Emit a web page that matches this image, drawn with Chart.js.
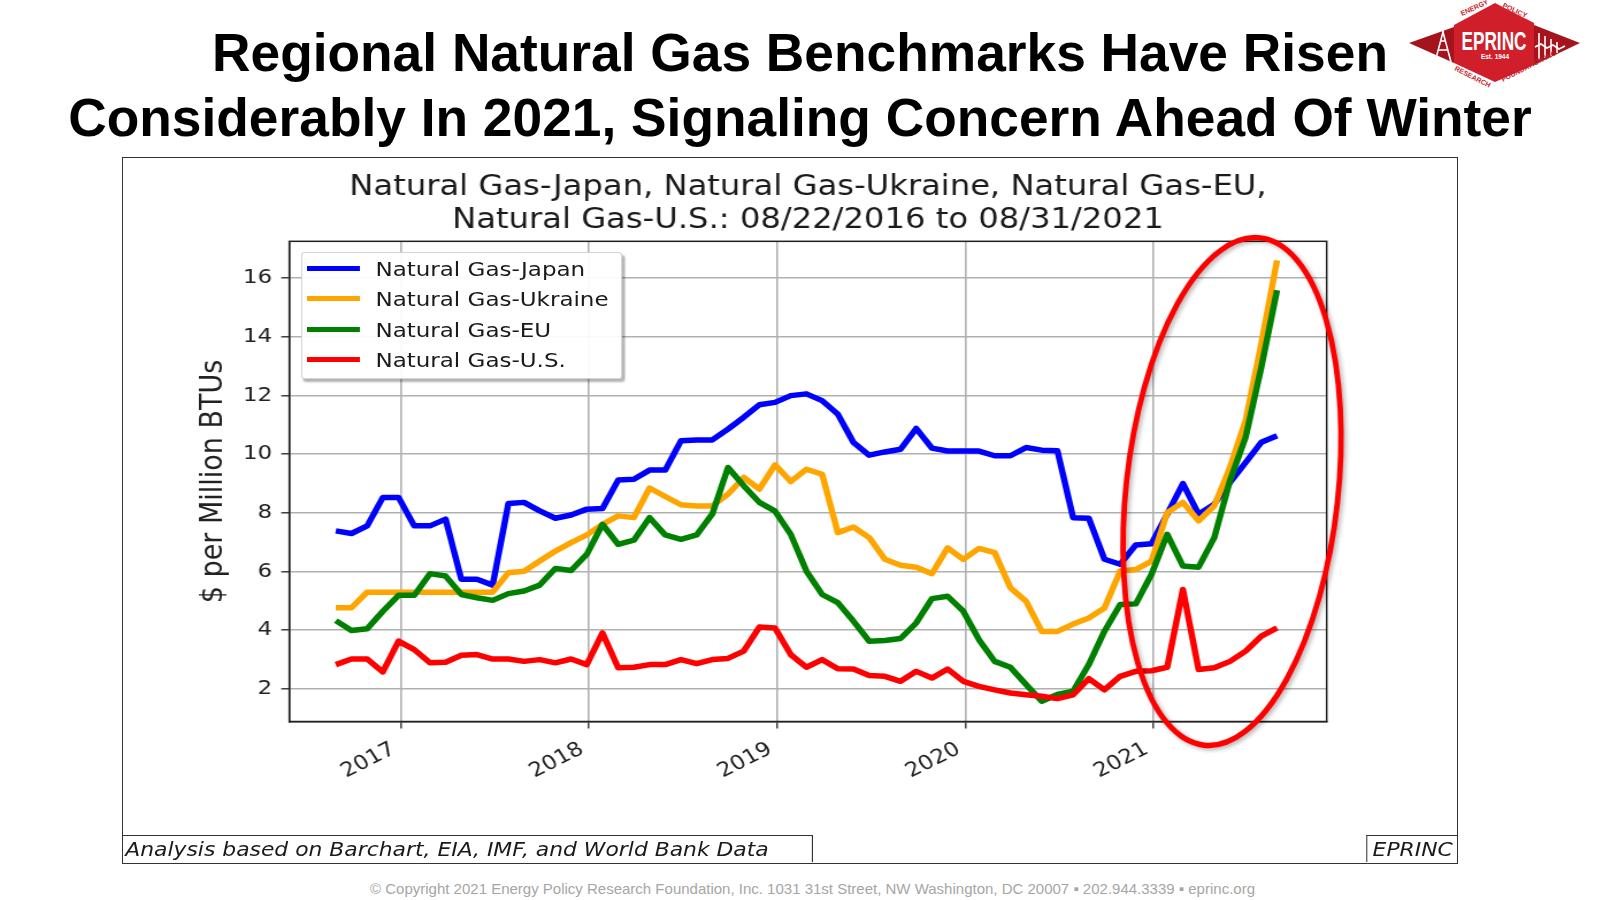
<!DOCTYPE html>
<html lang="en"><head>
<meta charset="utf-8">
<title>Regional Natural Gas Benchmarks</title>
<script src="https://cdn.jsdelivr.net/npm/chart.js"></script>
<style type="text/css">
body { margin:0; background:#ffffff; }
#slide { position:relative; width:1600px; height:900px; overflow:hidden; background:#ffffff;
         font-family:"Liberation Sans",Arial,sans-serif; }
.headline { position:absolute; left:0; top:21px; width:1600px; text-align:center; font-weight:bold;
            font-size:53.3px; line-height:64.7px; color:#000000; }
#logo { position:absolute; left:1405px; top:0px; }
#fig { position:absolute; left:121.5px; top:156.5px; width:1336.5px; height:707px;
       border:1.5px solid #333333; box-sizing:border-box; }
#inner { position:absolute; left:0; top:0; width:1160px; height:704px;
         transform:scaleX(1.15); transform-origin:0 0; }
#chart { position:absolute; left:0; top:0; }
#legend { position:absolute; left:154.5px; top:94.7px; width:279px; height:127px; box-sizing:border-box;
          border:1px solid #d4d4d4; border-radius:3px; background:rgba(255,255,255,0.92);
          box-shadow:2px 3px 2px rgba(0,0,0,0.3); font-family:"DejaVu Sans",sans-serif; font-size:20px; color:#1a1a1a; }
.swatch { position:absolute; left:4px; width:46px; height:5px; }
.label { position:absolute; left:64px; line-height:24px; white-space:nowrap; }
.note { position:absolute; top:677px; height:27px; box-sizing:border-box; border-top:1.5px solid #333333;
        font-family:"DejaVu Sans",sans-serif; font-style:italic; font-size:19px; line-height:25.5px;
        color:#1a1a1a; white-space:nowrap; overflow:hidden; padding-top:1px; }
#source { left:0; width:600px; border-right:1.5px solid #333333; padding-left:2px; }
#brand { left:1081px; width:79px; border-left:1.5px solid #333333; padding-left:4.6px; }
#footer { position:absolute; left:812.5px; top:880px; transform:translateX(-50%); white-space:nowrap;
          font-size:15px; line-height:18px; color:#a6a6a6; }
</style>
<script>
// monthly values, Aug 2016 .. Aug 2021, $ per million BTU
months=["Aug 2016","Sep 2016","Oct 2016","Nov 2016","Dec 2016",
  "Jan 2017","Feb 2017","Mar 2017","Apr 2017","May 2017","Jun 2017","Jul 2017","Aug 2017","Sep 2017","Oct 2017","Nov 2017","Dec 2017",
  "Jan 2018","Feb 2018","Mar 2018","Apr 2018","May 2018","Jun 2018","Jul 2018","Aug 2018","Sep 2018","Oct 2018","Nov 2018","Dec 2018",
  "Jan 2019","Feb 2019","Mar 2019","Apr 2019","May 2019","Jun 2019","Jul 2019","Aug 2019","Sep 2019","Oct 2019","Nov 2019","Dec 2019",
  "Jan 2020","Feb 2020","Mar 2020","Apr 2020","May 2020","Jun 2020","Jul 2020","Aug 2020","Sep 2020","Oct 2020","Nov 2020","Dec 2020",
  "Jan 2021","Feb 2021","Mar 2021","Apr 2021","May 2021","Jun 2021","Jul 2021","Aug 2021"];

japan=[7.38,7.29,7.55,8.52,8.52,7.55,7.55,7.78,5.73,5.73,5.53,8.31,8.35,8.06,7.81,7.92,8.12,8.14,9.11,9.14,
  9.45,9.45,10.45,10.48,10.48,10.85,11.25,11.68,11.76,11.99,12.05,11.82,11.36,10.39,9.96,10.07,10.16,10.87,10.20,10.10,
  10.10,10.10,9.94,9.94,10.22,10.13,10.11,7.83,7.81,6.41,6.24,6.90,6.94,7.95,8.99,7.95,8.29,9.03,9.71,10.40,10.62];
ukraine=[4.76,4.76,5.29,5.29,5.29,5.29,5.29,5.29,5.29,5.29,5.29,5.95,6.00,6.35,6.69,6.98,7.24,7.60,7.89,7.83,
  8.84,8.55,8.27,8.23,8.23,8.63,9.20,8.80,9.63,9.06,9.48,9.31,7.32,7.51,7.15,6.41,6.21,6.14,5.92,6.80,
  6.41,6.78,6.64,5.44,4.98,3.95,3.95,4.20,4.41,4.75,6.01,6.06,6.35,8.00,8.35,7.72,8.23,9.54,11.14,13.76,16.60];
eu=[4.32,3.98,4.04,4.64,5.18,5.18,5.92,5.84,5.21,5.10,5.01,5.24,5.33,5.53,6.10,6.03,6.58,7.60,6.92,7.06,
  7.83,7.24,7.09,7.24,7.95,9.54,8.92,8.35,8.05,7.26,6.01,5.21,4.93,4.30,3.62,3.64,3.71,4.24,5.07,5.15,
  4.64,3.67,2.93,2.73,2.14,1.57,1.80,1.91,2.82,3.96,4.87,4.89,5.90,7.26,6.18,6.14,7.15,9.09,10.57,12.96,15.58];
us=[2.82,3.01,3.01,2.57,3.62,3.33,2.88,2.90,3.14,3.16,3.01,3.01,2.93,2.99,2.88,3.01,2.82,3.90,2.71,2.73,
  2.82,2.82,2.99,2.85,2.99,3.03,3.28,4.10,4.07,3.16,2.73,2.99,2.68,2.67,2.45,2.42,2.25,2.59,2.36,2.67,
  2.25,2.08,1.96,1.85,1.79,1.74,1.66,1.79,2.34,1.96,2.42,2.59,2.61,2.73,5.38,2.65,2.71,2.93,3.28,3.79,4.07];

seriesNames=["Natural Gas-Japan","Natural Gas-Ukraine","Natural Gas-EU","Natural Gas-U.S."];
seriesColors=["#0000ff","#ffa500","#008000","#ff0000"];
yearTicks=[2017,2018,2019,2020,2021];
priceTicks=[2,4,6,8,10,12,14,16];
chartTitle=["Natural Gas-Japan, Natural Gas-Ukraine, Natural Gas-EU,","Natural Gas-U.S.: 08/22/2016 to 08/31/2021"];

// highlight ring round 2021, centre and half axes in data units
ring={x:2021.416,y:8.72,dx:0.563,dy:8.7,tilt:0.11};

S=1.15; // the figure is stretched sideways, as in the slide

function monthPos(i) { return 2016.655+i/12; }

framePlugin={id:"frame",afterDraw:function(chart){
  var c=chart.ctx,a=chart.chartArea,xs=chart.scales.x,ys=chart.scales.y;
  c.save(); c.strokeStyle="#222222"; c.lineWidth=1.5;
  c.strokeRect(a.left,a.top,a.right-a.left,a.bottom-a.top);
  var cx=xs.getPixelForValue(ring.x),cy=ys.getPixelForValue(ring.y);
  var rx=(xs.getPixelForValue(ring.x+ring.dx)-cx)*S,ry=ys.getPixelForValue(ring.y-ring.dy)-cy;
  c.translate(cx,cy); c.scale(1/S,1); c.rotate(ring.tilt);
  c.shadowColor="rgba(0,0,0,0.3)"; c.shadowBlur=4; c.shadowOffsetX=2; c.shadowOffsetY=2;
  c.beginPath(); c.ellipse(0,0,rx,ry,0,0,2*Math.PI);
  c.strokeStyle="#ff0000"; c.lineWidth=5.5; c.stroke();
  c.restore(); }};

function initChart() {
  values=[japan,ukraine,eu,us]; datasets=[];
  for (k=0;k<4;k++) {
    pts=[]; for (i=0;i<months.length;i++) { pts.push({x:monthPos(i),y:values[k][i]}); }
    datasets.push({label:seriesNames[k],data:pts,borderColor:seriesColors[k],backgroundColor:seriesColors[k],
      borderWidth:5.5,pointRadius:0,tension:0,borderJoinStyle:"round",order:4-k}); }

  axisFont={family:"DejaVu Sans",size:20};
  gridOpts={color:"#b0b0b0",lineWidth:1.6,tickLength:7,tickColor:"#222222",tickWidth:1.3};
  config={type:"line",data:{datasets:datasets},options:{
    responsive:false,animation:false,events:[],
    layout:{padding:{left:0,right:113.3,top:0,bottom:40.5}},
    plugins:{legend:{display:false},tooltip:{enabled:false},
      title:{display:true,fullSize:false,text:chartTitle,color:"#1a1a1a",
        font:{family:"DejaVu Sans",size:28,weight:"normal",lineHeight:1.154},padding:{top:13.85,bottom:4.85}}},
    scales:{
      x:{type:"linear",min:2016.408,max:2021.919,
        afterBuildTicks:function(a){a.ticks=yearTicks.map(function(v){return {value:v};});},
        afterFit:function(a){a.height=100;},
        ticks:{callback:function(v){return String(v);},minRotation:30,maxRotation:30,font:axisFont,color:"#222222",
          padding:9,labelOffset:-6},
        grid:gridOpts,border:{color:"#222222",width:1.5}},
      y:{min:0.88,max:17.25,
        afterBuildTicks:function(a){a.ticks=priceTicks.map(function(v){return {value:v};});},
        afterFit:function(a){a.width=144.6;},
        title:{display:true,text:"$ per Million BTUs",color:"#222222",font:{family:"DejaVu Sans",size:27},padding:{top:62.3,bottom:0}},
        ticks:{font:axisFont,color:"#222222",padding:8},
        grid:gridOpts,border:{color:"#222222",width:1.5}}}},
    plugins:[framePlugin]};
  myChart=new Chart(document.getElementById("chart"),config);

  legend=document.getElementById("legend");
  for (k=0;k<4;k++) {
    cy=15+30.5*k;
    sw=document.createElement("div"); sw.className="swatch"; sw.style.top=(cy-2.5)+"px"; sw.style.background=seriesColors[k];
    lb=document.createElement("div"); lb.className="label"; lb.style.top=(cy-11.6)+"px"; lb.textContent=seriesNames[k];
    legend.appendChild(sw); legend.appendChild(lb); } }
</script></head>
<body onload="initChart();">
<div id="slide">
  <div class="headline">Regional Natural Gas Benchmarks Have Risen<br>Considerably In 2021, Signaling Concern Ahead Of Winter</div>

  <svg id="logo" width="180" height="88" viewBox="0 0 180 88">
    <polygon points="4,43 49,27 49,63" fill="#a5141d"/>
    <polygon points="175,43 129,25 129,65" fill="#a5141d"/>
    <polygon points="49,25 90,3 129,23 129,65 90,82 49,63" fill="#d01f2a"/>
    <g stroke="#ffffff" stroke-width="1.6" fill="none">
      <polyline points="30,62 38,32 46,62"/><line x1="33" y1="50" x2="43" y2="50"/><line x1="35" y1="41" x2="41" y2="41"/>
      <line x1="38" y1="29" x2="38" y2="34"/>
      <line x1="134" y1="33" x2="134" y2="60"/><line x1="140" y1="36" x2="140" y2="58"/>
      <line x1="146" y1="39" x2="146" y2="56"/><line x1="152" y1="42" x2="152" y2="53"/>
      <polyline points="130,47 136,44 142,48 148,45 154,49 160,46"/>
    </g>
    <text x="89" y="50" text-anchor="middle" font-family="Liberation Sans Narrow, Liberation Sans" font-weight="bold"
          font-size="25" fill="#ffffff" textLength="65" lengthAdjust="spacingAndGlyphs">EPRINC</text>
    <text x="90" y="59" text-anchor="middle" font-family="Liberation Sans" font-weight="bold" font-size="6.5" fill="#ffffff">Est. 1944</text>
    <g font-family="Liberation Sans" font-weight="bold" font-size="7" fill="#c81e28">
      <text x="57" y="16" transform="rotate(-25 57 16)">ENERGY</text>
      <text x="97" y="7" transform="rotate(25 97 7)">POLICY</text>
      <text x="49" y="70" transform="rotate(27 49 70)">RESEARCH</text>
      <text x="98" y="82" transform="rotate(-27 98 82)">FOUNDATION INC.</text>
    </g>
  </svg>

  <div id="fig">
    <div id="inner">
      <canvas id="chart" width="1160" height="704"></canvas>
      <div id="legend"></div>
      <div class="note" id="source">Analysis based on Barchart, EIA, IMF, and World Bank Data</div>
      <div class="note" id="brand">EPRINC</div>
    </div>
  </div>

  <div id="footer">&copy; Copyright 2021 Energy Policy Research Foundation, Inc. 1031 31st Street, NW Washington, DC 20007 &#9642; 202.944.3339 &#9642; eprinc.org</div>
</div>
</body></html>
